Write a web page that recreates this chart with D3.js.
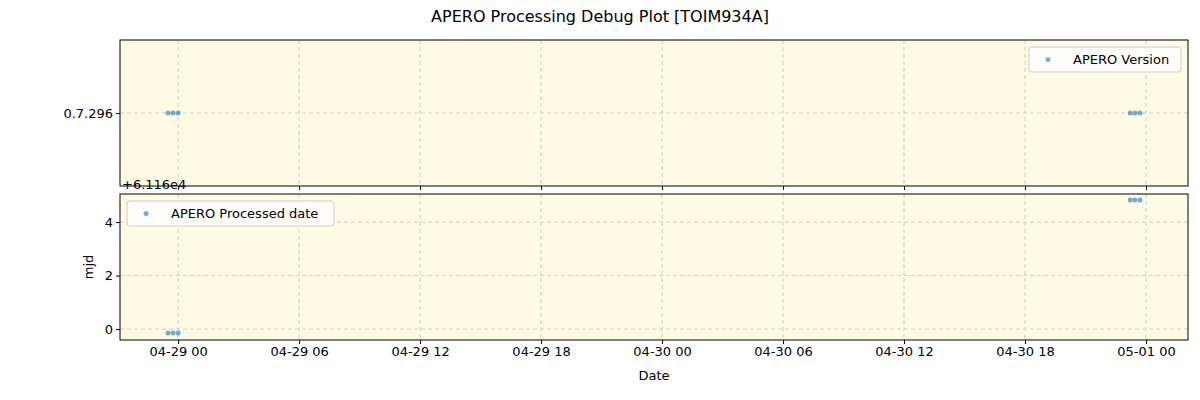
<!DOCTYPE html>
<html><head><meta charset="utf-8">
<script src="https://cdn.jsdelivr.net/npm/d3@7"></script>
<style>body{margin:0;background:#fff}text{font-family:"DejaVu Sans",sans-serif}</style>
</head><body><svg id="c" width="1200" height="400"></svg>
<script>
const times = ["2024-04-28T23:30","2024-04-28T23:45","2024-04-29T00:00","2024-04-30T23:13","2024-04-30T23:27","2024-04-30T23:42"];
const versions = [7.296,7.296,7.296,7.296,7.296,7.296];
const mjdOffsets = [-0.15,-0.15,-0.15,4.83,4.83,4.83];
const xTickLabels = ["04-29 00","04-29 06","04-29 12","04-29 18","04-30 00","04-30 06","04-30 12","04-30 18","05-01 00"];
const yTicksBottom = [0,2,4];

const svg = d3.select("#c");
const parse = d3.timeParse("%Y-%m-%dT%H:%M");
const t = times.map(parse);
const x = d3.scaleTime().domain([parse("2024-04-28T21:07"), parse("2024-05-01T02:05")]).range([120,1188]);
const tickDates = xTickLabels.map((_,i)=>d3.timeHour.offset(parse("2024-04-29T00:00"), 6*i));
const col = "#1f77b4";

svg.append("text").attr("x",600).attr("y",22).attr("text-anchor","middle").attr("font-size",16).text("APERO Processing Debug Plot [TOIM934A]");

function panel(top,bottom,y,yticks,fmt,vals,label){
  const g = svg.append("g");
  g.append("rect").attr("x",120).attr("y",top).attr("width",1068).attr("height",bottom-top).attr("fill","#fdfbe3");
  tickDates.forEach(d=>g.append("line").attr("x1",x(d)).attr("x2",x(d)).attr("y1",top).attr("y2",bottom).attr("stroke","#ccc").attr("stroke-dasharray","4,3"));
  yticks.forEach(v=>g.append("line").attr("x1",120).attr("x2",1188).attr("y1",y(v)).attr("y2",y(v)).attr("stroke","#ccc").attr("stroke-dasharray","4,3"));
  g.selectAll("circle.p").data(vals).join("circle").attr("cx",(d,i)=>x(t[i])).attr("cy",d=>y(d)).attr("r",2.5).attr("fill",col).attr("fill-opacity",0.6);
  g.append("rect").attr("x",120).attr("y",top).attr("width",1068).attr("height",bottom-top).attr("fill","none").attr("stroke","#000");
  const ax = g.append("g").attr("transform","translate(120,0)").call(d3.axisLeft(y).tickValues(yticks).tickFormat(fmt).tickSize(4));
  ax.select(".domain").remove();
  ax.selectAll("text").attr("font-size",13).attr("font-family","DejaVu Sans");
  const xa = g.append("g").attr("transform",`translate(0,${bottom})`).call(d3.axisBottom(x).tickValues(tickDates).tickFormat((d,i)=>label? xTickLabels[i]:"").tickSize(4));
  xa.select(".domain").remove();
  xa.selectAll("text").attr("font-size",13).attr("font-family","DejaVu Sans");
}
const yTop = d3.scaleLinear().domain([7.2955,7.2965]).range([186,40]);
panel(40,186,yTop,[7.296],()=>"0.7.296",versions,false);
const yBot = d3.scaleLinear().domain([-0.41,5.05]).range([340,194]);
panel(194,340,yBot,yTicksBottom,d3.format("d"),mjdOffsets,true);

svg.append("text").attr("x",122).attr("y",189).attr("font-size",13).text("+6.116e4");
svg.append("text").attr("x",654).attr("y",380).attr("text-anchor","middle").attr("font-size",13).text("Date");
svg.append("text").attr("transform","translate(93,267) rotate(-90)").attr("text-anchor","middle").attr("font-size",13).text("mjd");

function legend(x0,y0,w,txt){
  svg.append("rect").attr("x",x0).attr("y",y0).attr("width",w).attr("height",25).attr("fill","#fff").attr("fill-opacity",0.8).attr("stroke","#ccc").attr("rx",3);
  svg.append("circle").attr("cx",x0+19).attr("cy",y0+12.5).attr("r",2.5).attr("fill",col).attr("fill-opacity",0.6);
  svg.append("text").attr("x",x0+44).attr("y",y0+17).attr("font-size",13).text(txt);
}
legend(1029,47,152,"APERO Version");
legend(127,201,207,"APERO Processed date");
</script></body></html>
